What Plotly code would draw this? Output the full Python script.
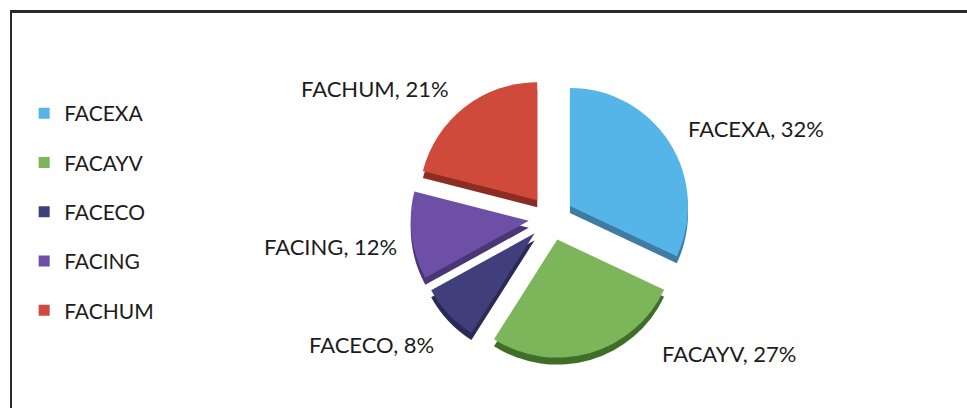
import plotly.graph_objects as go

# Share of records per faculty
faculties = ["FACEXA", "FACAYV", "FACECO", "FACING", "FACHUM"]
shares = [32, 27, 8, 12, 21]

face_colors = ["#55B5E8", "#7DB55A", "#403F7C", "#6D4FA6", "#D04A3C"]
side_colors = ["#3F7BA3", "#3F6E28", "#2A2A55", "#4A3575", "#8C2C22"]

W, H = 967, 408
PULL = 0.19
TEXT = "#1c1c1c"

# pie geometry in pixels (center, full domain size, rim depth)
cx, cy, size, depth = 551, 218, 281, 7

# data-label anchor points (pixel centers), one per slice
label_pos = [(756, 128), (729, 353), (371, 344), (330, 246), (375, 88)]


def dom(x0, y0, s):
    return dict(x=[(x0 - s / 2) / W, (x0 + s / 2) / W],
                y=[1 - (y0 + s / 2) / H, 1 - (y0 - s / 2) / H])


fig = go.Figure()

# darker copy below gives the slices some thickness
fig.add_trace(go.Pie(
    labels=faculties, values=shares, sort=False, direction="clockwise",
    rotation=0, pull=PULL, marker=dict(colors=side_colors, line=dict(width=0)),
    textinfo="none", hoverinfo="skip", showlegend=False,
    domain=dom(cx, cy + depth, size),
))

fig.add_trace(go.Pie(
    labels=faculties, values=shares, sort=False, direction="clockwise",
    rotation=0, pull=PULL, marker=dict(colors=face_colors, line=dict(width=0)),
    textinfo="none", showlegend=False, domain=dom(cx, cy, size),
))

# legend entries, one group each so they can be spaced apart
for name, col in zip(faculties, face_colors):
    fig.add_trace(go.Scatter(
        x=[None], y=[None], mode="markers", name=name, legendgroup=name,
        marker=dict(symbol="square", size=11, color=col),
    ))

total = sum(shares)
annotations = [
    dict(x=px / W, y=1 - py / H, xref="paper", yref="paper",
         text=f"{name}, {round(100 * v / total)}%", showarrow=False,
         xanchor="center", yanchor="middle",
         font=dict(family="Lato", size=22, color=TEXT))
    for name, v, (px, py) in zip(faculties, shares, label_pos)
]

fig.update_layout(
    width=W, height=H,
    margin=dict(l=0, r=0, t=0, b=0),
    paper_bgcolor="white", plot_bgcolor="white",
    xaxis=dict(visible=False), yaxis=dict(visible=False),
    showlegend=True,
    legend=dict(x=0.025, y=1 - 93 / H, xanchor="left", yanchor="top",
                font=dict(family="Lato", size=21, color=TEXT),
                tracegroupgap=19, itemwidth=30, bgcolor="rgba(0,0,0,0)"),
    annotations=annotations,
    shapes=[
        dict(type="line", xref="paper", yref="paper",
             x0=10 / W, x1=1, y0=1 - 11.5 / H, y1=1 - 11.5 / H,
             line=dict(color="#2b2b2b", width=3)),
        dict(type="line", xref="paper", yref="paper",
             x0=11 / W, x1=11 / W, y0=0, y1=1 - 11.5 / H,
             line=dict(color="#2b2b2b", width=2)),
    ],
)

fig.write_html("out.html")
